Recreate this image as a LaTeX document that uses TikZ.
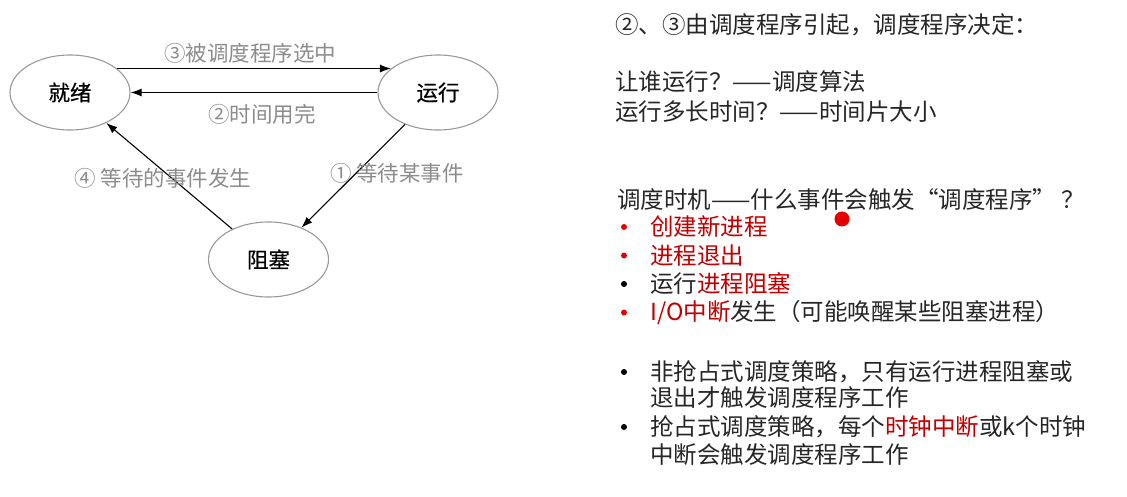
\documentclass[tikz,border=0pt]{standalone}
\usepackage{fontspec}
\setmainfont{Noto Sans CJK SC}
\newfontfamily\halbfett[FakeBold=0.7]{Noto Sans CJK SC}
\usetikzlibrary{arrows.meta,shapes.geometric}
\definecolor{rot}{HTML}{C00000}
\definecolor{punktrot}{HTML}{E50000}
\definecolor{grau}{HTML}{8C8C8C}

\begin{document}
\begin{tikzpicture}[x=1pt, y=-1pt,
	zustand/.style={ellipse, draw=black!40, line width=1.1pt, minimum width=120pt, minimum height=75pt, inner sep=0pt, font=\halbfett\fontsize{21.5}{24}\selectfont},
	pfeil/.style={-{Latex[length=11pt,width=8pt]}, line width=1.1pt},
	marke/.style={text=grau, inner sep=0pt, font=\fontsize{21.5}{24}\selectfont},
	zeile/.style={anchor=west, inner sep=0pt, text=black!85, font=\fontsize{23.5}{26}\selectfont}]
	\useasboundingbox (0,0) rectangle (1127,497);
	% Zustaende
	\node[zustand] (jiuxu) at (70,92.5) {就绪};
	\node[zustand] (yunxing) at (438,92.5) {运行};
	\node[zustand] (zusai) at (268.5,259.5) {阻塞};

	% Uebergaenge
	\draw[pfeil] (jiuxu.27) -- (yunxing.153);
	\draw[pfeil] (yunxing.west) -- (jiuxu.east);
	\draw[pfeil] (yunxing.-136) -- (zusai.44);
	\draw[pfeil] (zusai.140) -- (jiuxu.-40);
	\node[marke] (l3) at (250,53) {③被调度程序选中};
	\node[marke] (l2) at (262,114) {②时间用完};
	\node[marke] (l1) at (397,173) {① 等待某事件};
	\node[marke] (l4) at (163,178) {④ 等待的事件发生};

	% Erklaerungen
	\node[zeile] (t1) at (615,25) {②、③由调度程序引起，调度程序决定：};
	\node[zeile] (t2) at (615,82) {让谁运行？——调度算法};
	\node[zeile] (t3) at (615,112) {运行多长时间？——时间片大小};
	\node[zeile] (t4) at (617,200) {调度时机——什么事件会触发“调度程序” ？};
	\node[zeile, text=rot] (a1) at (650,227) {创建新进程};
	\node[zeile, text=rot] (a2) at (650,255.5) {进程退出};
	\node[zeile] (a3) at (650,284) {运行\textcolor{rot}{进程阻塞}};
	\node[zeile] (a4) at (650,312.5) {\textcolor{rot}{I/O中断}发生（可能唤醒某些阻塞进程）};
	\node[zeile] (s1) at (650,372) {非抢占式调度策略，只有运行进程阻塞或};
	\node[zeile] (s2) at (650,398) {退出才触发调度程序工作};
	\node[zeile] (s3) at (650,427) {抢占式调度策略，每个\textcolor{rot}{时钟中断}或k个时钟};
	\node[zeile] (s4) at (650,455) {中断会触发调度程序工作};
	% Punkte
	\foreach \y/\f in {227/punktrot, 255.5/punktrot, 284/black, 312.5/punktrot, 372/black, 427/black}
		\fill[\f] (624,\y) circle (3);
	\fill[punktrot] (842,219) circle (7.5);
\end{tikzpicture}
\end{document}
